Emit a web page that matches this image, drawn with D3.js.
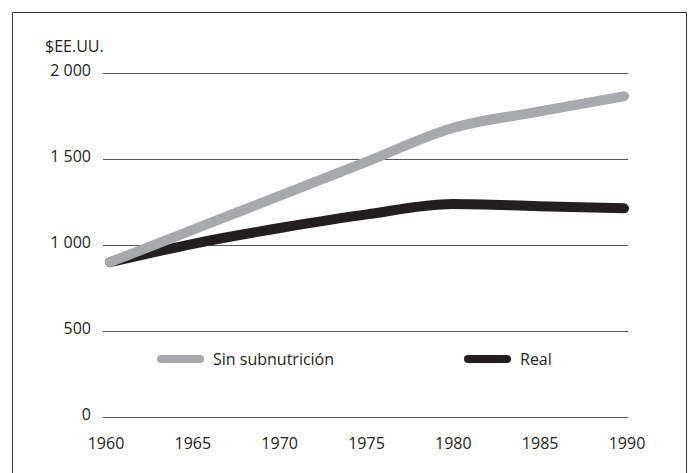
<!DOCTYPE html>
<html>
<head>
<meta charset="utf-8">
<script src="https://cdn.jsdelivr.net/npm/d3@7"></script>
<style>
    body { margin: 0; background: #fff; }
    text { font-family: "Open Sans", sans-serif; font-size: 16px; fill: #231f20; }
</style>
</head>
<body>
<script>

    // data
    var years = [1960, 1965, 1970, 1975, 1980, 1985, 1990];
    var sinSubnutricion = [900, 1095, 1290, 1485, 1680, 1775, 1865];
    var real = [900, 1010, 1100, 1178, 1238, 1226, 1213];
    var yTicks = [0, 500, 1000, 1500, 2000];
    var seriesNames = ["Sin subnutrición", "Real"];
    var seriesColors = ["#a7a9ac", "#231f20"];

    var width = 691, height = 473;

    var svg = d3.select("body").append("svg")
        .attr("width", width)
        .attr("height", height);

    // frame (bottom edge runs off the picture)
    svg.append("path")
        .attr("d", "M12.5,480 L12.5,12.5 L686.5,12.5 L686.5,480")
        .attr("fill", "none")
        .attr("stroke", "#333")
        .attr("stroke-width", 1);

    var x = d3.scaleLinear().domain([1960, 1990]).range([110, 624]);
    var xLabel = d3.scaleLinear().domain([1960, 1990]).range([106, 627]);
    var y = d3.scaleLinear().domain([0, 2000]).range([417, 73]);

    // gridlines
    svg.append("g")
        .selectAll("line")
        .data(yTicks)
        .enter()
        .append("line")
        .attr("x1", 103)
        .attr("x2", 628)
        .attr("y1", function (d) { return Math.round(y(d)) + 0.5; })
        .attr("y2", function (d) { return Math.round(y(d)) + 0.5; })
        .attr("stroke", "#555")
        .attr("stroke-width", 1);

    // y labels
    var fmt = function (d) { return d3.format(",")(d).replace(",", " "); };
    svg.append("g")
        .selectAll("text")
        .data(yTicks)
        .enter()
        .append("text")
        .attr("x", 91)
        .attr("y", function (d) { return y(d); })
        .attr("dy", "0.2em")
        .attr("text-anchor", "end")
        .text(fmt);

    svg.append("text")
        .attr("x", 45)
        .attr("y", 52)
        .text("$EE.UU.");

    // x labels
    svg.append("g")
        .selectAll("text")
        .data(years)
        .enter()
        .append("text")
        .attr("x", function (d) { return xLabel(d); })
        .attr("y", 449)
        .attr("text-anchor", "middle")
        .text(function (d) { return d; });

    // lines
    var line = d3.line()
        .x(function (d, i) { return x(years[i]); })
        .y(function (d) { return y(d); })
        .curve(d3.curveMonotoneX);

    [real, sinSubnutricion].forEach(function (s) {
        svg.append("path")
            .datum(s)
            .attr("d", line)
            .attr("fill", "none")
            .attr("stroke", s === real ? seriesColors[1] : seriesColors[0])
            .attr("stroke-width", 10)
            .attr("stroke-linecap", "round")
            .attr("stroke-linejoin", "round");
    });

    // legend
    var legendX = [161, 468];
    var legend = svg.append("g")
        .selectAll("g")
        .data(seriesNames)
        .enter()
        .append("g")
        .attr("transform", function (d, i) { return "translate(" + legendX[i] + ",359)"; });

    legend.append("line")
        .attr("x1", 0)
        .attr("x2", 39)
        .attr("stroke", function (d, i) { return seriesColors[i]; })
        .attr("stroke-width", 8)
        .attr("stroke-linecap", "round");

    legend.append("text")
        .attr("x", 52)
        .attr("y", 6)
        .text(function (d) { return d; });

</script>
</body>
</html>
